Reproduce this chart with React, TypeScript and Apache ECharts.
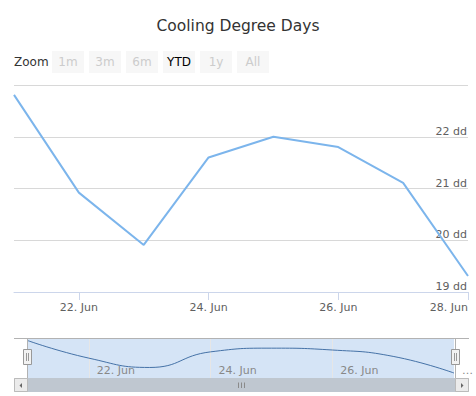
import React, { useEffect, useRef } from 'react';
import * as echarts from 'echarts';

const categories = ['21. Jun', '22. Jun', '23. Jun', '24. Jun', '25. Jun', '26. Jun', '27. Jun', '28. Jun'];
const cddValues = [22.81, 20.92, 19.91, 21.6, 22.0, 21.8, 21.11, 19.31];
const yMin = 19;
const yMax = 23;
const yStep = 1;
const unit = 'dd';
const rangeButtons = ['1m', '3m', '6m', 'YTD', '1y', 'All'];
const selectedButton = 'YTD';
const titleText = 'Cooling Degree Days';

const FONT = '"DejaVu Sans", Verdana, sans-serif';

export default function App() {
  const ref = useRef<HTMLDivElement>(null);
  useEffect(() => {
    document.body.style.margin = '0';
    const chart = echarts.init(ref.current as HTMLDivElement, null, { renderer: 'svg' });

    const buttonGraphics: any[] = [];
    rangeButtons.forEach((b, i) => {
      const x = 52 + i * 37;
      buttonGraphics.push({
        type: 'rect', z: 10,
        shape: { x, y: 51, width: 32, height: 22, r: 0 },
        style: { fill: '#f7f7f7' },
      });
      buttonGraphics.push({
        type: 'text', z: 11,
        x: x + 16, y: 62,
        style: {
          text: b, fill: b === selectedButton ? '#000000' : '#cccccc',
          font: '12px ' + FONT, textAlign: 'center', textVerticalAlign: 'middle',
        },
      });
    });

    const handle = (cx: number) => [
      { type: 'rect', z: 20, shape: { x: cx - 4.5, y: 349.5, width: 8, height: 15 }, style: { fill: '#f2f2f2', stroke: '#999999', lineWidth: 1 } },
      { type: 'line', z: 21, shape: { x1: cx - 1.5, y1: 353, x2: cx - 1.5, y2: 361 }, style: { stroke: '#999999', lineWidth: 1 } },
      { type: 'line', z: 21, shape: { x1: cx + 0.5, y1: 353, x2: cx + 0.5, y2: 361 }, style: { stroke: '#999999', lineWidth: 1 } },
    ];

    chart.setOption({
      animation: false,
      textStyle: { fontFamily: FONT },
      title: {
        text: titleText,
        left: 'center',
        top: 13,
        textStyle: { fontFamily: FONT, fontSize: 15.5, fontWeight: 'normal', color: '#333333' },
      },
      grid: [
        { left: 14, right: 8, top: 85, bottom: 104, containLabel: false },
        { left: 28, right: 21, top: 338, height: 40, show: true, backgroundColor: '#d5e4f6', borderWidth: 0 },
      ],
      xAxis: [
        {
          gridIndex: 0,
          type: 'category',
          data: categories,
          boundaryGap: false,
          axisLine: { show: true, lineStyle: { color: '#ccd6eb', width: 1 } },
          axisTick: { show: true, length: 8, lineStyle: { color: '#ccd6eb' }, interval: (i: number) => i % 2 === 1 },
          axisLabel: {
            interval: (i: number) => i % 2 === 1,
            color: '#606060', fontSize: 11, fontFamily: FONT, margin: 10,
            alignMaxLabel: 'right',
          },
          splitLine: { show: false },
        },
        {
          gridIndex: 1,
          type: 'category',
          data: categories,
          boundaryGap: false,
          axisLine: { show: false },
          axisTick: { show: false },
          splitLine: { show: true, interval: (i: number) => i % 2 === 1 && i < 7, lineStyle: { color: '#e6e6e6', width: 1 } },
          axisLabel: {
            inside: true,
            interval: (i: number) => i % 2 === 1,
            formatter: (v: string, i: number) => (i === categories.length - 1 ? '…' : v),
            align: 'left',
            padding: [0, 0, 0, 8],
            margin: 2,
            color: '#888888', fontSize: 11, fontFamily: FONT,
          },
        },
      ],
      yAxis: [
        {
          gridIndex: 0,
          type: 'value',
          position: 'right',
          min: yMin, max: yMax, interval: yStep,
          axisLine: { show: false },
          axisTick: { show: false },
          splitLine: { show: true, lineStyle: { color: '#d8d8d8', width: 1 } },
          axisLabel: {
            inside: true,
            margin: 1,
            verticalAlign: 'bottom',
            padding: [0, 0, 0, 0],
            color: '#606060', fontSize: 11, fontFamily: FONT,
            formatter: (v: number) => (v >= yMax ? '' : v + ' ' + unit),
          },
        },
        {
          gridIndex: 1,
          type: 'value',
          min: 18.77, max: 23.1,
          show: false,
          splitLine: { show: false },
        },
      ],
      series: [
        {
          type: 'line', xAxisIndex: 0, yAxisIndex: 0,
          data: cddValues,
          symbol: 'none',
          lineStyle: { color: '#7cb5ec', width: 2 },
          itemStyle: { color: '#7cb5ec' },
        },
        {
          type: 'line', xAxisIndex: 1, yAxisIndex: 1,
          data: cddValues,
          symbol: 'none',
          smooth: 0.5,
          lineStyle: { color: '#4572a7', width: 1 },
          itemStyle: { color: '#4572a7' },
        },
      ],
      graphic: [
        {
          type: 'text', z: 11, x: 14, y: 62,
          style: { text: 'Zoom', fill: '#333333', font: '12px ' + FONT, textAlign: 'left', textVerticalAlign: 'middle' },
        },
        ...buttonGraphics,
        { type: 'line', z: 15, shape: { x1: 14, y1: 338.5, x2: 469, y2: 338.5 }, style: { stroke: '#b2b2b2', lineWidth: 1 } },
        { type: 'line', z: 15, shape: { x1: 27.5, y1: 338, x2: 27.5, y2: 378 }, style: { stroke: '#b2b2b2', lineWidth: 1 } },
        { type: 'line', z: 15, shape: { x1: 455.5, y1: 338, x2: 455.5, y2: 378 }, style: { stroke: '#b2b2b2', lineWidth: 1 } },
        ...handle(28),
        ...handle(456),
        { type: 'rect', z: 15, shape: { x: 14.5, y: 378.5, width: 454, height: 13 }, style: { fill: '#eeeeee', stroke: '#bbbbbb', lineWidth: 1 } },
        { type: 'rect', z: 16, shape: { x: 28, y: 378.5, width: 427, height: 13 }, style: { fill: '#bfc7d0', stroke: '#bfc7d0', lineWidth: 1 } },
        { type: 'rect', z: 17, shape: { x: 14.5, y: 378.5, width: 13, height: 13 }, style: { fill: '#ebebeb', stroke: '#bbbbbb', lineWidth: 1 } },
        { type: 'rect', z: 17, shape: { x: 455.5, y: 378.5, width: 13, height: 13 }, style: { fill: '#ebebeb', stroke: '#bbbbbb', lineWidth: 1 } },
        { type: 'polygon', z: 18, shape: { points: [[22, 383], [22, 388], [19.5, 385.5]] }, style: { fill: '#666666' } },
        { type: 'polygon', z: 18, shape: { points: [[461, 383], [461, 388], [463.5, 385.5]] }, style: { fill: '#666666' } },
        { type: 'line', z: 18, shape: { x1: 238.5, y1: 382.5, x2: 238.5, y2: 388 }, style: { stroke: '#8a8a8a', lineWidth: 1 } },
        { type: 'line', z: 18, shape: { x1: 241.5, y1: 382.5, x2: 241.5, y2: 388 }, style: { stroke: '#8a8a8a', lineWidth: 1 } },
        { type: 'line', z: 18, shape: { x1: 244.5, y1: 382.5, x2: 244.5, y2: 388 }, style: { stroke: '#8a8a8a', lineWidth: 1 } },
      ],
    });
    return () => chart.dispose();
  }, []);
  return <div ref={ref} style={{ width: 476, height: 396 }} />;
}
